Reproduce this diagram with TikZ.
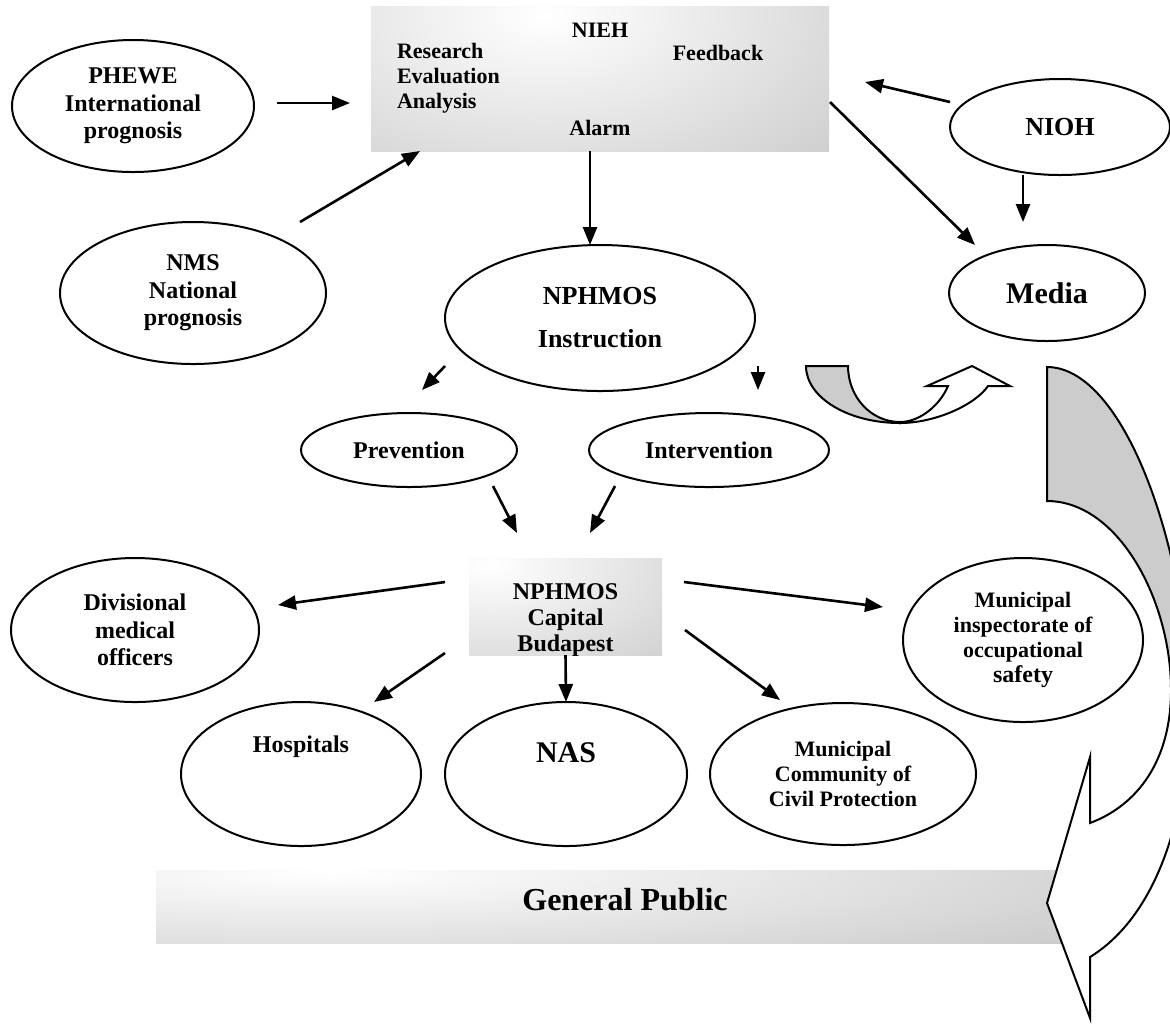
\documentclass[tikz,border=0pt]{standalone}
\usepackage{fontspec}
\setmainfont{Liberation Serif}
\usetikzlibrary{shapes.geometric,arrows.meta,calc}
\definecolor{shadegray}{HTML}{C0C0C0}
\definecolor{ribbongray}{HTML}{CCCCCC}
\begin{document}
\begin{tikzpicture}[x=0.5pt,y=-0.5pt,
  every node/.style={font=\bfseries},
  oval/.style={draw, ellipse, line width=1pt, inner sep=0pt, outer sep=0pt, align=center},
  plain/.style={inner sep=0pt, outer sep=0pt},
  t11/.style={font=\bfseries\fontsize{11}{12.5}\selectfont},
  t12/.style={font=\bfseries\fontsize{12}{13.75}\selectfont},
  t13/.style={font=\bfseries\fontsize{13}{21.5}\selectfont},
  t15/.style={font=\bfseries\fontsize{15}{17}\selectfont},
  link/.style={line width=1.3pt, -{Triangle[length=9pt,width=7pt]}},
  ribbon/.style={draw, line width=1pt, line join=miter}
]
\useasboundingbox (0,0) rectangle (1170,1025);
\clip (0,0) rectangle (1170,1025);

% ---------- shaded boxes ----------
\begin{scope}
  \clip (371,6) rectangle (829,151);
  \fill[shadegray] (371,6) rectangle (829,151);
  \shade[inner color=white, outer color=shadegray] (545,15) ellipse (250pt and 136pt);
\end{scope}
\node[plain, minimum width=229pt, minimum height=72.5pt] (nieh) at (600,78.5) {};
\node[t11] (niehtitle) at (600,30) {NIEH};
\node[t11, align=left, anchor=west] (research) at (390,78) {Research\\Evaluation\\Analysis};
\node[t11] (feedback) at (718,53) {Feedback};
\node[t11] (alarm) at (600,128) {Alarm};

\begin{scope}
  \clip (469,558) rectangle (662,655);
  \fill[shadegray] (469,558) rectangle (662,655);
  \shade[inner color=white, outer color=shadegray] (490,565) ellipse (170pt and 90pt);
  \node[align=center, font=\bfseries\fontsize{12}{13}\selectfont] (captext) at (565.5,620) {NPHMOS\\Capital\\Budapest};
\end{scope}
\node[plain, minimum width=96.5pt, minimum height=48.5pt] (cap) at (565.5,606.5) {};

\begin{scope}
  \clip (156,870) rectangle (1062,943);
  \fill[shadegray] (156,870) rectangle (1062,943);
  \shade[inner color=white, outer color=shadegray] (330,872) ellipse (570pt and 73pt);
\end{scope}
\node[plain, minimum width=453pt, minimum height=36.5pt] (public) at (609,906.5) {};
\node[font=\bfseries\fontsize{16}{18}\selectfont] (publictext) at (625,900) {General Public};

% ---------- ellipses ----------
\node[oval, t12, minimum width=121pt, minimum height=66pt] (phewe) at (133,106) {PHEWE\\International\\prognosis};
\node[oval, t12, minimum width=133pt, minimum height=71pt] (nms) at (193,293) {NMS\\National\\prognosis};
\node[oval, font=\bfseries\fontsize{13}{15}\selectfont, minimum width=110pt, minimum height=48pt] (nioh) at (1060,127) {NIOH};
\node[oval, t15, minimum width=98pt, minimum height=48pt] (media) at (1047,293) {Media};
\node[oval, t13, minimum width=155pt, minimum height=73pt] (instr) at (600,318) {NPHMOS\\Instruction};
\node[oval, t12, minimum width=108pt, minimum height=37pt] (prev) at (409,450) {Prevention};
\node[oval, t12, minimum width=120pt, minimum height=37pt] (interv) at (709,450) {Intervention};
\node[oval, t12, minimum width=124pt, minimum height=72pt] (divis) at (135,630) {Divisional\\medical\\officers};
\node[oval, minimum width=120pt, minimum height=72pt] (hosp) at (301,774) {};
\node[t12] (hosptext) at (301,747) {Hospitals};
\node[oval, minimum width=121pt, minimum height=72pt] (nas) at (566,774) {};
\node[t15] (nastext) at (566,753) {NAS};
\node[oval, t11, minimum width=133pt, minimum height=71pt] (comm) at (843,774) {Municipal\\Community of\\Civil Protection};
\node[oval, t11, minimum width=120pt, minimum height=82pt] (insp) at (1023,640)
  {Municipal\\inspectorate of\\occupational\\{\fontsize{12}{12.5}\selectfont safety}};

% ---------- connectors ----------
\draw[link] ($(phewe.east)+(23,-3)$) -- ($(nieh.west)+(-21,24.5)$);
\draw[link] ($(nms.north)+(107,0)$) -- ($(nieh.south west)+(49,0)$);
\draw[link] ($(nioh.west)+(0,-25)$) -- ($(nieh.east)+(36,3.5)$);
\draw[link] ($(nieh.east)+(1,23.5)$) -- ($(media.north)+(-72,0)$);
\draw[link] ($(nioh.south)+(-37,0)$) -- ($(media.north)+(-24,-23)$);
\draw[link] ($(nieh.south)+(-10,0)$) -- ($(instr.north)+(-10,0)$);
\draw[link] ($(instr.center)+(-155,48)$) -- ($(prev.north)+(13,-23)$);
\draw[link] ($(instr.center)+(158,48)$) -- ($(interv.north)+(49,-23)$);
\draw[link] ($(prev.south)+(84,-1)$) -- ($(cap.north)+(-48.5,-25)$);
\draw[link] ($(interv.south)+(-94,-1)$) -- ($(cap.north)+(24.5,-25)$);
\draw[link] ($(cap.west)+(-24,-24.5)$) -- ($(divis.east)+(19,-25)$);
\draw[link] ($(cap.east)+(22,-24.5)$) -- ($(insp.west)+(-20,-33)$);
\draw[link] ($(cap.west)+(-24,46.5)$) -- ($(hosp.north)+(73,0)$);
\draw[link] (cap.south) -- (nas.north);
\draw[link] ($(cap.east)+(23,23.5)$) -- ($(comm.north)+(-63,-3)$);

% ---------- small U-turn ribbon arrow ----------
\path[ribbon, fill=ribbongray] (806,366) -- (848,366)
  .. controls (848,397) and (871,422) .. (900,422) -- (900,423)
  .. controls (848,423) and (806,397.5) .. (806,366) -- cycle;
\path[ribbon, fill=white] (900,422)
  .. controls (920,422) and (940,405) .. (948,386)
  -- (927,386) -- (972,366) -- (1010,386) -- (988,386)
  .. controls (975,405) and (935,423) .. (900,423) -- cycle;

% ---------- large curved arrow into the public ----------
\path[ribbon, fill=ribbongray] (1047,367) -- (1047,501)
  .. controls (1118,501) and (1171,600) .. (1171,690)
  -- (1190,690)
  .. controls (1182,530) and (1120,367) .. (1047,367) -- cycle;
\path[ribbon, fill=white] (1171,690)
  .. controls (1171,760) and (1138,805) .. (1090,823)
  -- (1090,757) -- (1047,903) -- (1090,1018) -- (1090,957)
  .. controls (1150,920) and (1190,830) .. (1190,690) -- cycle;
\end{tikzpicture}
\end{document}
